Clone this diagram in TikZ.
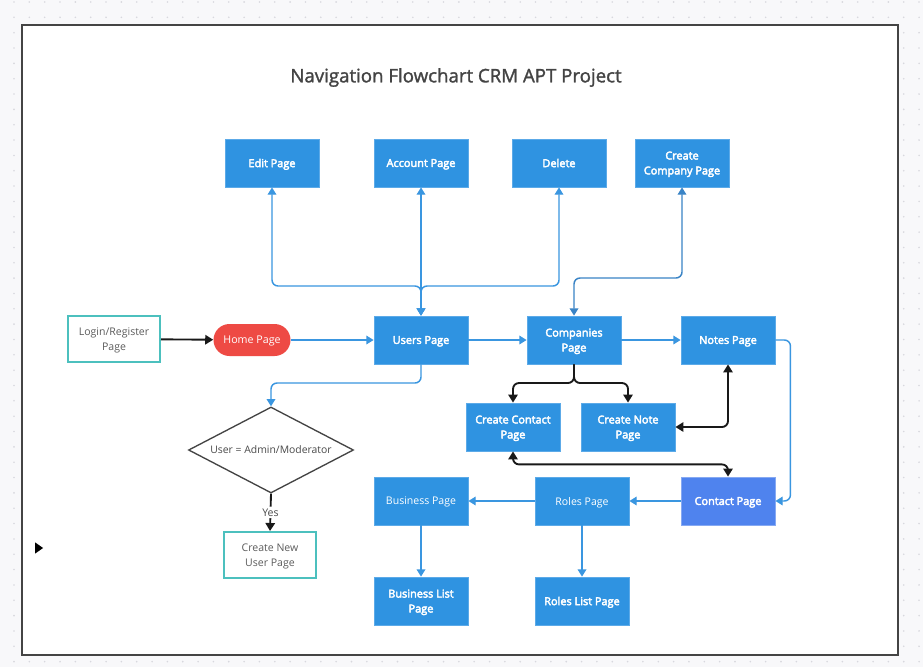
\documentclass[tikz,border=0pt]{standalone}
\usepackage{fontspec}
\setmainfont{Open Sans}
\newfontfamily\semib[FakeBold=3.5]{Open Sans}
\newfontfamily\titlefont[FakeBold=1.5]{Open Sans}
\usetikzlibrary{arrows.meta,shapes.geometric}
\definecolor{boxblue}{HTML}{2F93E1}
\definecolor{boxedge}{HTML}{5CAAE8}
\definecolor{lineblue}{HTML}{3A96E0}
\definecolor{darkblue}{HTML}{3A84C6}
\definecolor{contactblue}{HTML}{4F83EE}
\definecolor{contactedge}{HTML}{86A9F2}
\definecolor{homered}{HTML}{EE4A44}
\definecolor{teal}{HTML}{4CC0BE}
\definecolor{bggray}{HTML}{F8F8FA}
\definecolor{dotgray}{HTML}{D8D8DE}
\definecolor{framegray}{HTML}{444444}
\definecolor{txtgray}{HTML}{4A4A4A}
\tikzset{
  pagebox/.style={rectangle, fill=boxblue, draw=boxedge, line width=0.6pt, text=white,
    minimum width=70.5pt, minimum height=36pt, inner sep=1pt, align=center, text depth=0pt,
    font=\fontsize{8.2}{11.2}\semib},
  pageboxr/.style={pagebox, font=\fontsize{7.9}{11.2}\selectfont},
  outbox/.style={rectangle, fill=white, draw=teal, line width=1.5pt, text=txtgray!90,
    minimum width=69pt, minimum height=34.5pt, inner sep=1pt, align=center, text depth=0pt,
    font=\fontsize{7.9}{11.2}\selectfont},
  bl/.style={draw=lineblue, line width=1.1pt, rounded corners=4.5pt,
    arrows={-Triangle[length=5.5pt,width=6.5pt]}},
  blb/.style={bl, arrows={Triangle[length=5.5pt,width=6.5pt]-Triangle[length=5.5pt,width=6.5pt]}},
  bk/.style={draw=black!90, line width=1.4pt, rounded corners=4.5pt,
    arrows={-Triangle[length=6pt,width=7pt]}},
  bkb/.style={bk, arrows={Triangle[length=6pt,width=7pt]-Triangle[length=6pt,width=7pt]}},
}
\begin{document}
\begin{tikzpicture}[x=0.75pt,y=-0.75pt]
\useasboundingbox (0,0) rectangle (923,667);
% background with dots
\fill[bggray] (0,0) rectangle (923,667);
\foreach \i in {0,...,60}{
  \foreach \j in {0,...,43}{
    \fill[dotgray] (14+15.34*\i, 2+15.34*\j) circle (0.9);
  }
}
% frame
\draw[framegray, line width=1.6pt, fill=white] (22,25) rectangle (898,655);
% title
\node[text=framegray, font=\fontsize{14}{16}\titlefont] (title) at (456,77.5) {Navigation Flowchart CRM APT Project};
% play marker
\node[fill=black, isosceles triangle, isosceles triangle apex angle=70, inner sep=0pt, minimum height=6pt, minimum width=7pt] (marker) at (38,548) {};
% top row
\node[pagebox] (edit) at (272,163) {Edit Page};
\node[pagebox] (account) at (421,163) {Account Page};
\node[pagebox] (delete) at (559,163) {Delete};
\node[pagebox] (ccompany) at (682,163) {Create\\Company Page};
% middle row
\node[outbox] (login) at (114,339) {Login/Register\\Page};
\node[rectangle, rounded corners=12pt, fill=homered, text=white, minimum width=57.75pt, minimum height=24pt, inner sep=1pt, text depth=0pt, font=\fontsize{8}{10.5}\selectfont] (home) at (252,340) {Home Page};
\node[pagebox] (users) at (421,340) {Users Page};
\node[pagebox] (companies) at (574,340) {Companies\\Page};
\node[pagebox] (notes) at (728,340) {Notes Page};
% create row
\node[pagebox] (ccontact) at (513,427) {Create Contact\\Page};
\node[pagebox] (cnote) at (628,427) {Create Note\\Page};
% diamond
\node[diamond, draw=framegray, line width=1pt, fill=white, minimum width=123.75pt, minimum height=64.5pt, inner sep=0pt] (dia) at (271,450) {};
\node[text=txtgray, text depth=0pt, font=\fontsize{7.8}{10}\selectfont] (dialabel) at (271,450) {User = Admin/Moderator};
\node[outbox] (cnewuser) at (270,555) {Create New\\User Page};
% lower rows
\node[pageboxr] (business) at (421,501) {Business Page};
\node[pageboxr] (roles) at (582,501) {Roles Page};
\node[pagebox, fill=contactblue, draw=contactedge] (contact) at (728,501) {Contact Page};
\node[pagebox] (blist) at (421,601) {Business List\\Page};
\node[pagebox] (rlist) at (582,601) {Roles List Page};
% junction coordinates
\coordinate (uj) at (421,286);
\coordinate (cj) at (574,278);
\coordinate (ud) at (421,383);
\coordinate (cd) at (574,383);
% connectors
\draw[bk] (login) -- (home);
\draw[bl] (home) -- (users);
\draw[bl] (users) -- (companies);
\draw[bl] (companies) -- (notes);
\draw[blb] (users.north) -- (uj) -| (edit.south);
\draw[blb] (users.north) -- (account.south);
\draw[blb] (users.north) -- (uj) -| (delete.south);
\draw[blb, draw=darkblue] (companies.north) -- (cj) -| (ccompany.south);
\draw[bl] (users.south) -- (ud) -| (dia.north);
\draw[bk] (companies.south) -- (cd) -| (ccontact.north);
\draw[bk] (companies.south) -- (cd) -| (cnote.north);
\draw[bkb] (cnote.east) -| (notes.south);
\draw[bkb] (ccontact.south) -- ++(0,13) -| (contact.north);
\draw[bl] (notes.east) -- ++(15,0) |- (contact.east);
\draw[bl] (contact) -- (roles);
\draw[bl] (roles) -- (business);
\draw[bl] (business) -- (blist);
\draw[bl] (roles) -- (rlist);
\draw[bk] (dia.south) -- node[fill=white, text=txtgray, inner sep=1.5pt, text depth=0pt, font=\fontsize{7.9}{10}\selectfont] (yes) {Yes} (cnewuser.north);
\end{tikzpicture}
\end{document}
